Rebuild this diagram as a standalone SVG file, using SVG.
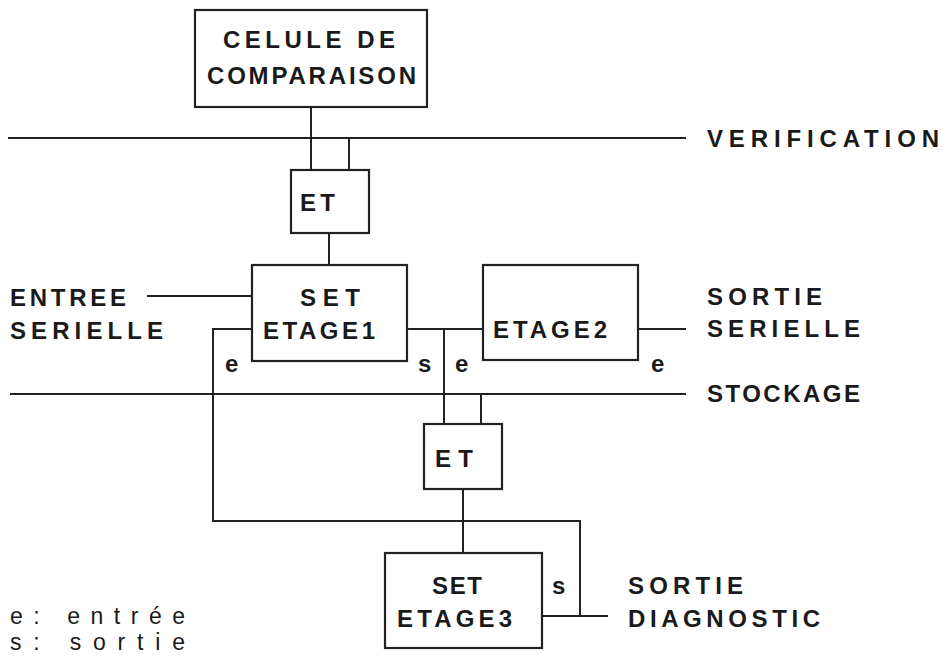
<svg xmlns="http://www.w3.org/2000/svg" width="943" height="662" viewBox="0 0 943 662">
<style>
.box{fill:#fff;stroke:#222;stroke-width:2.2}
.ln{fill:none;stroke:#222;stroke-width:2}
text{font-family:"Liberation Sans",Arial,sans-serif;font-size:24px;font-weight:bold;fill:#1a1a1a}
.sm{font-size:24px}
.lg{font-size:23px;font-weight:normal}
</style>
<rect width="943" height="662" fill="#fff"/>
<g id="connectors">
<line class="ln" x1="311" y1="107" x2="311" y2="170"/>
<line class="ln" x1="8" y1="138" x2="686" y2="138"/>
<line class="ln" x1="349" y1="138" x2="349" y2="170"/>
<line class="ln" x1="329" y1="233" x2="329" y2="265"/>
<line class="ln" x1="147" y1="296" x2="252" y2="296"/>
<polyline class="ln" points="252,329 213,329 213,521 580,521 580,616"/>
<line class="ln" x1="542" y1="616" x2="608" y2="616"/>
<line class="ln" x1="407" y1="329" x2="483" y2="329"/>
<line class="ln" x1="444" y1="329" x2="444" y2="424"/>
<line class="ln" x1="10" y1="394" x2="686" y2="394"/>
<line class="ln" x1="481" y1="394" x2="481" y2="424"/>
<line class="ln" x1="638" y1="329" x2="686" y2="329"/>
<line class="ln" x1="463" y1="489" x2="463" y2="553"/>
</g>
<g id="celule">
<rect class="box" x="195" y="10" width="232" height="97"/>
<text x="223" y="48" textLength="172" lengthAdjust="spacing">CELULE DE</text>
<text x="207" y="84" textLength="209" lengthAdjust="spacing">COMPARAISON</text>
</g>
<g id="verification">
<text x="707" y="147" textLength="232" lengthAdjust="spacing">VERIFICATION</text>
</g>
<g id="et1">
<rect class="box" x="291" y="170" width="78" height="63"/>
<text x="300" y="211" textLength="35" lengthAdjust="spacing">ET</text>
</g>
<g id="entree">
<text x="10" y="306" textLength="116" lengthAdjust="spacing">ENTREE</text>
<text x="10" y="339" textLength="153" lengthAdjust="spacing">SERIELLE</text>
</g>
<g id="etage1">
<rect class="box" x="252" y="265" width="155" height="96"/>
<text x="300" y="306" textLength="60" lengthAdjust="spacing">SET</text>
<text x="263" y="339" textLength="112" lengthAdjust="spacing">ETAGE1</text>
</g>
<g id="etage2">
<rect class="box" x="483" y="265" width="155" height="95"/>
<text x="493" y="338" textLength="114" lengthAdjust="spacing">ETAGE2</text>
</g>
<g id="sortie-serielle">
<text x="707" y="305" textLength="115" lengthAdjust="spacing">SORTIE</text>
<text x="707" y="337" textLength="153" lengthAdjust="spacing">SERIELLE</text>
</g>
<g id="stockage">
<text x="707" y="402" textLength="153" lengthAdjust="spacing">STOCKAGE</text>
</g>
<g id="labels">
<text class="sm" x="225" y="372">e</text>
<text class="sm" x="418" y="372">s</text>
<text class="sm" x="455" y="372">e</text>
<text class="sm" x="651" y="372">e</text>
<text class="sm" x="552" y="594">s</text>
</g>
<g id="et2">
<rect class="box" x="424" y="424" width="78" height="65"/>
<text x="435" y="467" textLength="38" lengthAdjust="spacing">ET</text>
</g>
<g id="etage3">
<rect class="box" x="385" y="553" width="157" height="95"/>
<text x="432" y="594" textLength="50" lengthAdjust="spacing">SET</text>
<text x="397" y="627" textLength="115" lengthAdjust="spacing">ETAGE3</text>
</g>
<g id="sortie-diag">
<text x="628" y="594" textLength="115" lengthAdjust="spacing">SORTIE</text>
<text x="628" y="627" textLength="192" lengthAdjust="spacing">DIAGNOSTIC</text>
</g>
<g id="legend">
<text class="lg" x="10" y="624" textLength="175" lengthAdjust="spacing">e: entrée</text>
<text class="lg" x="10" y="650" textLength="175" lengthAdjust="spacing">s: sortie</text>
</g>
</svg>
